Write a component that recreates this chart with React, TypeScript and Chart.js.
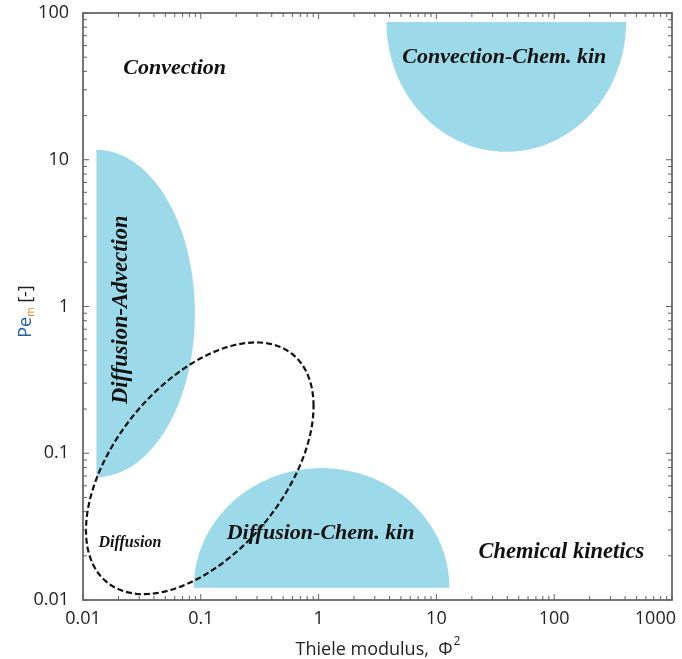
import { useEffect, useRef } from "react";
import { Chart, registerables } from "chart.js";

Chart.register(...registerables);

// axis decades
const xTicks = [0.01, 0.1, 1, 10, 100, 1000];
const yTicks = [0.01, 0.1, 1, 10, 100];

// shaded regions: half ellipses in log-log space (centre, half-widths in decades)
const regionNames = ["Diffusion-Advection", "Diffusion-Chem. kin", "Convection-Chem. kin"];
const regionCenterX = [0.013, 1.06, 39.2];
const regionCenterY = [0.897, 0.0121, 86.9];
const regionSpanX = [0.836, 1.085, 1.017];
const regionSpanY = [1.115, 0.816, 0.885];
const regionSide = ["right", "top", "bottom"];

// dashed "Diffusion" ellipse (tilted in log-log space)
const ovalCenter = [0.098, 0.079];
const ovalAxisX = [0.966, 0];
const ovalAxisY = [0.423, 0.746];

// region labels
const labelTexts = ["Convection", "Convection-Chem. kin", "Diffusion-Advection", "Diffusion", "Diffusion-Chem. kin", "Chemical kinetics"];
const labelX = [0.06, 37.7, 0.021, 0.025, 1.04, 115];
const labelY = [42, 50, 0.95, 0.0244, 0.0286, 0.0212];

const labelSize = [22, 22, 22.5, 16, 22, 22.5];
const labelAngle = [0, 0, -90, 0, 0, 0];

const halfRange: Record<string, [number, number]> = {
    right: [-90, 90],
    top: [0, 180],
    bottom: [180, 360],
};

function halfEllipse(i: number) {
    const [a0, a1] = halfRange[regionSide[i]];
    const cx = Math.log10(regionCenterX[i]);
    const cy = Math.log10(regionCenterY[i]);
    const pts = [];
    for (let k = 0; k <= 90; k++) {
        const t = ((a0 + (a1 - a0) * k / 90) * Math.PI) / 180;
        pts.push({
            x: Math.pow(10, cx + regionSpanX[i] * Math.cos(t)),
            y: Math.pow(10, cy + regionSpanY[i] * Math.sin(t)),
        });
    }
    return pts;
}

function oval() {
    const cx = Math.log10(ovalCenter[0]);
    const cy = Math.log10(ovalCenter[1]);
    const pts = [];
    for (let k = 0; k <= 160; k++) {
        const t = (k / 160) * Math.PI * 2;
        pts.push({
            x: Math.pow(10, cx + ovalAxisX[0] * Math.cos(t) + ovalAxisX[1] * Math.sin(t)),
            y: Math.pow(10, cy + ovalAxisY[0] * Math.cos(t) + ovalAxisY[1] * Math.sin(t)),
        });
    }
    return pts;
}

const tickFont = '"Open Sans", sans-serif';

const frame = {
    id: "frame",
    afterDraw(chart: any) {
        const { ctx, chartArea: a, scales } = chart;
        const x = scales.x;
        const y = scales.y;
        ctx.save();
        ctx.strokeStyle = "#606060";
        ctx.lineWidth = 1.7;
        ctx.strokeRect(a.left, a.top, a.right - a.left, a.bottom - a.top);
        ctx.lineWidth = 1;
        ctx.beginPath();
        for (let e = -2; e <= 3; e++) {
            for (let m = 1; m <= 9; m++) {
                const v = m * Math.pow(10, e);
                if (v > x.max * 1.0001) break;
                const len = m === 1 ? 6 : 4;
                const px = x.getPixelForValue(v);
                ctx.moveTo(px, a.bottom);
                ctx.lineTo(px, a.bottom - len);
                ctx.moveTo(px, a.top);
                ctx.lineTo(px, a.top + len);
            }
        }
        for (let e = -2; e <= 2; e++) {
            for (let m = 1; m <= 9; m++) {
                const v = m * Math.pow(10, e);
                if (v > y.max * 1.0001) break;
                const len = m === 1 ? 6 : 4;
                const py = y.getPixelForValue(v);
                ctx.moveTo(a.left, py);
                ctx.lineTo(a.left + len, py);
                ctx.moveTo(a.right, py);
                ctx.lineTo(a.right - len, py);
            }
        }
        ctx.stroke();

        // x tick labels (last one kept inside the canvas)
        ctx.fillStyle = "#222";
        ctx.font = `18px ${tickFont}`;
        ctx.textBaseline = "middle";
        ctx.textAlign = "left";
        xTicks.forEach((v) => {
            const s = String(v);
            const w = ctx.measureText(s).width;
            let left = x.getPixelForValue(v) - w / 2;
            if (left + w > chart.width - 6) left = chart.width - 6 - w;
            ctx.fillText(s, left, a.bottom + 19);
        });

        // x title
        ctx.textBaseline = "alphabetic";
        const main = "Thiele modulus,  \u03A6";
        const w1 = ctx.measureText(main).width;
        ctx.font = `12px ${tickFont}`;
        const w2 = ctx.measureText("2").width;
        const cx = (a.left + a.right) / 2;
        let sx = cx - (w1 + w2) / 2;
        ctx.font = `18px ${tickFont}`;
        ctx.fillText(main, sx, 655);
        ctx.font = `12px ${tickFont}`;
        ctx.fillText("2", sx + w1 + 1, 645);

        // y title
        ctx.translate(31, (a.top + a.bottom) / 2 + 5);
        ctx.rotate(-Math.PI / 2);
        ctx.font = `18px ${tickFont}`;
        const p1 = ctx.measureText("Pe").width;
        ctx.font = `10px ${tickFont}`;
        const p2 = ctx.measureText("m").width;
        ctx.font = `18px ${tickFont}`;
        const p3 = ctx.measureText(" [-]").width;
        sx = -(p1 + p2 + p3) / 2;
        ctx.fillStyle = "#1f5fa8";
        ctx.fillText("Pe", sx, 0);
        ctx.font = `10px ${tickFont}`;
        ctx.fillStyle = "#d98a2b";
        ctx.fillText("m", sx + p1, 3);
        ctx.font = `18px ${tickFont}`;
        ctx.fillStyle = "#222";
        ctx.fillText(" [-]", sx + p1 + p2, 0);
        ctx.restore();
    },
};

const regionLabels = {
    id: "regionLabels",
    afterDatasetsDraw(chart: any) {
        const { ctx, scales } = chart;
        ctx.save();
        ctx.fillStyle = "#111";
        ctx.textAlign = "center";
        ctx.textBaseline = "middle";
        labelTexts.forEach((t, i) => {
            const px = scales.x.getPixelForValue(labelX[i]);
            const py = scales.y.getPixelForValue(labelY[i]);
            ctx.save();
            ctx.translate(px, py);
            ctx.rotate((labelAngle[i] * Math.PI) / 180);
            ctx.font = `italic bold ${labelSize[i]}px "Liberation Serif", serif`;
            ctx.fillText(t, 0, 0);
            ctx.restore();
        });
        ctx.restore();
    },
};

const App: React.FC = () => {
    const chartRef = useRef<HTMLCanvasElement>(null);

    useEffect(() => {
        if (!chartRef.current) return;
        const ctx = chartRef.current.getContext("2d");
        if (!ctx) return;

        const datasets: any[] = regionNames.map((name, i) => ({
            label: name,
            data: halfEllipse(i),
            order: 2,
            borderWidth: 0,
            borderColor: "rgba(0,0,0,0)",
            backgroundColor: "#9cd9e9",
            fill: "shape",
            pointRadius: 0,
            tension: 0.2,
        }));
        datasets.push({
            label: "Diffusion",
            data: oval(),
            order: 1,
            borderColor: "#111",
            borderWidth: 2.2,
            borderDash: [6, 3],
            fill: false,
            pointRadius: 0,
            tension: 0,
        });

        const chart = new Chart(ctx, {
            type: "line",
            data: { datasets },
            options: {
                animation: false,
                responsive: true,
                maintainAspectRatio: false,
                layout: { padding: { top: 13, right: 10, left: 0, bottom: 0 } },
                plugins: {
                    legend: { display: false },
                    tooltip: { enabled: false },
                },
                scales: {
                    x: {
                        type: "logarithmic",
                        min: 0.01,
                        max: 1000,
                        grid: { display: false },
                        border: { display: false },
                        afterBuildTicks: (s: any) => {
                            s.ticks = xTicks.map((v) => ({ value: v }));
                        },
                        afterFit: (s: any) => {
                            s.height = 59;
                            s.paddingLeft = 0;
                            s.paddingRight = 0;
                        },
                        ticks: { display: false },
                    },
                    y: {
                        type: "logarithmic",
                        min: 0.01,
                        max: 100,
                        grid: { display: false },
                        border: { display: false },
                        afterBuildTicks: (s: any) => {
                            s.ticks = yTicks.map((v) => ({ value: v }));
                        },
                        afterFit: (s: any) => {
                            s.width = 83;
                            s.paddingTop = 0;
                            s.paddingBottom = 0;
                        },
                        ticks: {
                            autoSkip: false,
                            padding: 6,
                            color: "#222",
                            font: { family: tickFont, size: 18 },
                            callback: (v: any) => String(v),
                        },
                    },
                },
            },
            plugins: [regionLabels, frame],
        });

        return () => {
            chart.destroy();
        };
    }, []);

    return (
        <div style={{ position: "absolute", left: 0, top: 0, width: 682, height: 659, background: "#fff" }}>
            <canvas ref={chartRef}></canvas>
        </div>
    );
};

export default App;
